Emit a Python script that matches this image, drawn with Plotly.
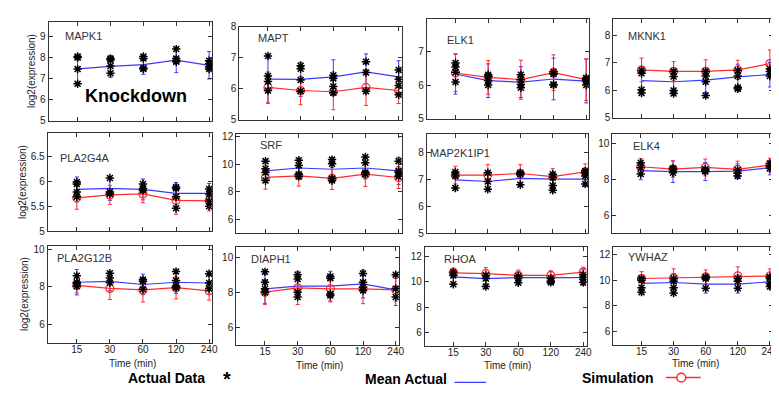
import plotly.graph_objects as go

W, H = 779, 393

times = [15, 30, 60, 120, 240]
time_labels = ["15", "30", "60", "120", "240"]

genes = ["MAPK1", "MAPT", "ELK1", "MKNK1",
         "PLA2G4A", "SRF", "MAP2K1IP1", "ELK4",
         "PLA2G12B", "DIAPH1", "RHOA", "YWHAZ"]

# ---- data ----
MAPK1_actual = [[8.05, 8.0, 7.45, 6.75], [7.95, 7.9, 7.6, 7.25], [8.05, 7.95, 7.5, 7.45], [8.4, 7.95, 7.85, 7.8], [7.85, 7.7, 7.55, 7.45]]
MAPK1_mean = [7.46, 7.58, 7.66, 7.88, 7.63]
MAPK1_mean_err = [0.65, 0.52, 0.46, 0.6, 0.65]
MAPK1_sim = None
MAPK1_sim_err = None

MAPT_actual = [[7.05, 6.41, 6.23, 5.94], [6.74, 6.64, 6.28, 5.92], [6.43, 6.33, 6.07, 5.87], [6.87, 6.52, 5.92], [6.6, 6.3, 6.1, 5.8]]
MAPT_mean = [6.31, 6.30, 6.38, 6.54, 6.38]
MAPT_mean_err = [0.78, 0.55, 0.55, 0.58, 0.52]
MAPT_sim = [6.04, 5.94, 5.90, 6.04, 5.94]
MAPT_sim_err = [0.5, 0.46, 0.58, 0.58, 0.42]

ELK1_actual = [[6.66, 6.54, 6.38, 6.09], [6.31, 6.26, 6.13, 6.0], [6.31, 6.16, 6.02, 5.92], [6.4, 6.33, 6.02, 6.0], [6.21, 6.16, 6.12, 6.0]]
ELK1_mean = [6.33, 6.13, 6.09, 6.18, 6.12]
ELK1_mean_err = [0.6, 0.5, 0.46, 0.62, 0.65]
ELK1_sim = [6.36, 6.23, 6.16, 6.37, 6.16]
ELK1_sim_err = [0.55, 0.5, 0.58, 0.53, 0.62]

MKNK1_actual = [[6.72, 6.62, 6.02, 5.9], [6.68, 6.5, 5.99, 5.88], [6.68, 6.52, 6.31, 5.81], [6.72, 6.52, 6.1, 6.05], [6.78, 6.68, 6.52]]
MKNK1_mean = [6.35, 6.31, 6.37, 6.49, 6.57]
MKNK1_mean_err = [0.5, 0.45, 0.45, 0.46, 0.45]
MKNK1_sim = [6.74, 6.69, 6.69, 6.74, 6.97]
MKNK1_sim_err = [0.43, 0.35, 0.42, 0.35, 0.5]

PLA2G4A_actual = [[5.99, 5.95, 5.79, 5.69], [6.07, 5.79, 5.75], [5.95, 5.86, 5.82], [5.89, 5.86, 5.69, 5.46], [5.85, 5.75, 5.6, 5.5]]
PLA2G4A_mean = [5.84, 5.86, 5.84, 5.76, 5.76]
PLA2G4A_mean_err = [0.25, 0.24, 0.21, 0.22, 0.2]
PLA2G4A_sim = [5.67, 5.73, 5.75, 5.62, 5.61]
PLA2G4A_sim_err = [0.23, 0.19, 0.18, 0.28, 0.2]

SRF_actual = [[10.24, 9.69, 9.41, 8.83], [10.3, 9.93, 9.29, 9.13], [10.35, 10.05, 8.98, 8.83], [10.54, 10.12, 9.41, 9.29], [10.24, 9.53, 9.41, 9.13]]
SRF_mean = [9.53, 9.74, 9.65, 9.74, 9.53]
SRF_mean_err = [0.8, 0.7, 0.8, 0.8, 1.0]
SRF_sim = [9.05, 9.17, 8.98, 9.29, 9.05]
SRF_sim_err = [0.85, 0.75, 0.8, 0.9, 0.8]

MAP2K1IP1_actual = [[7.29, 7.14, 6.69], [7.26, 6.93, 6.64], [7.26, 7.2, 6.81], [7.2, 7.08, 6.78, 6.6], [7.32, 7.26, 7.14, 6.84]]
MAP2K1IP1_mean = [6.99, 6.93, 7.05, 7.02, 7.02]
MAP2K1IP1_mean_err = [0.3, 0.33, 0.27, 0.25, 0.27]
MAP2K1IP1_sim = [7.17, 7.17, 7.23, 7.11, 7.29]
MAP2K1IP1_sim_err = [0.33, 0.4, 0.33, 0.3, 0.3]

ELK4_actual = [[8.91, 8.65, 8.29], [8.6, 8.55, 8.36], [8.55, 8.47, 8.42], [8.51, 8.33, 8.18], [8.87, 8.73, 8.6]]
ELK4_mean = [8.47, 8.42, 8.42, 8.45, 8.64]
ELK4_mean_err = [0.5, 0.6, 0.5, 0.4, 0.4]
ELK4_sim = [8.69, 8.56, 8.65, 8.55, 8.78]
ELK4_sim_err = [0.45, 0.45, 0.47, 0.45, 0.38]

PLA2G12B_actual = [[8.59, 8.24, 8.17, 8.03], [8.72, 8.47, 8.21], [8.38, 8.29, 7.86], [8.81, 8.34, 8.03, 7.95], [8.7, 8.2, 7.9]]
PLA2G12B_mean = [8.24, 8.29, 8.12, 8.24, 8.2]
PLA2G12B_mean_err = [0.68, 0.5, 0.55, 0.6, 0.6]
PLA2G12B_sim = [8.07, 7.91, 7.83, 7.95, 7.78]
PLA2G12B_sim_err = [0.4, 0.6, 0.65, 0.6, 0.5]

DIAPH1_actual = [[9.16, 8.56, 8.19, 8.0], [9.0, 8.75, 8.0, 7.72], [8.9, 8.8, 7.9, 7.81], [9.07, 8.56, 8.28, 8.09], [9.0, 8.19, 7.72]]
DIAPH1_mean = [8.19, 8.34, 8.34, 8.47, 8.13]
DIAPH1_mean_err = [0.85, 0.5, 0.85, 0.8, 0.9]
DIAPH1_sim = [8.0, 8.24, 8.19, 8.19, 8.13]
DIAPH1_sim_err = [0.7, 0.95, 0.75, 0.85, 0.65]

RHOA_actual = [[10.76, 10.5, 9.8], [10.5, 10.25, 9.62], [10.43, 10.25, 9.92], [10.25, 10.05, 9.95], [10.55, 10.38, 10.18, 9.95]]
RHOA_mean = [10.38, 10.25, 10.33, 10.33, 10.33]
RHOA_mean_err = [0.45, 0.4, 0.4, 0.5, 0.6]
RHOA_sim = [10.7, 10.63, 10.5, 10.5, 10.76]
RHOA_sim_err = [0.38, 0.48, 0.42, 0.35, 0.38]

YWHAZ_actual = [[10.13, 10.0, 9.42, 9.07], [10.13, 9.92, 9.42, 9.0], [10.25, 10.13, 9.37], [10.13, 9.92, 9.37], [10.25, 10.13, 9.75, 9.5]]
YWHAZ_mean = [9.75, 9.82, 9.7, 9.7, 9.87]
YWHAZ_mean_err = [0.65, 0.7, 0.7, 0.7, 0.55]
YWHAZ_sim = [10.13, 10.18, 10.25, 10.33, 10.33]
YWHAZ_sim_err = [0.53, 0.7, 0.55, 0.7, 0.55]

y_ranges = [[5, 9.7], [5, 8.0], [5, 7.97], [5, 8.6],
            [5, 6.97], [5, 12.2], [5, 8.7], [5, 10.5],
            [5, 10.2], [5, 10.6], [5, 12.75], [5, 12.6]]
y_dticks = [1, 1, 1, 1, 0.5, 2, 1, 2, 2, 2, 2, 2]

# ---- layout geometry (pixels: left, right, top, bottom) ----
boxes = [(41, 206, 8, 110), (233, 397, 13, 109), (422, 586, 5, 108), (610, 771, 5, 107),
         (40, 206, 123, 224), (230, 397, 124, 226), (422, 585, 124, 226), (609, 771, 124, 226),
         (40, 206, 239, 339), (230, 394, 240, 341), (420, 583, 240, 342), (610, 771, 240, 341)]
title_pos = [(55, 23), (250, 25), (440, 27), (623, 23),
             (50, 149), (252, 135), (423, 143), (628, 136),
             (47, 252), (243, 253), (437, 253), (623, 251)]
ytitle_x = {0: 23, 4: 14, 8: 16}
xtitle_y = {8: 360, 9: 363, 10: 363, 11: 360}

BLUE = "#3a3aff"
RED = "#ff2a2a"
AX = "#333333"
FONT = "Liberation Sans, Arial, sans-serif"

def px(x):
    return x / W

def py(y):
    return 1 - y / H

data_map = {g: (globals()[g + "_actual"], globals()[g + "_mean"], globals()[g + "_mean_err"],
                globals()[g + "_sim"], globals()[g + "_sim_err"]) for g in genes}

fig = go.Figure()
layout = dict()
annotations = []

for i, g in enumerate(genes):
    n = i + 1
    xa = "x" if n == 1 else f"x{n}"
    ya = "y" if n == 1 else f"y{n}"
    actual, mean, mean_err, sim, sim_err = data_map[g]

    fig.add_trace(go.Scatter(
        x=times, y=mean, mode="lines", xaxis=xa, yaxis=ya,
        line=dict(color=BLUE, width=1.2),
        error_y=dict(type="data", array=mean_err, color=BLUE, thickness=1, width=2),
        showlegend=False, hoverinfo="skip"))
    if sim is not None:
        fig.add_trace(go.Scatter(
            x=times, y=sim, mode="lines+markers", xaxis=xa, yaxis=ya,
            line=dict(color=RED, width=1.2),
            marker=dict(symbol="circle-open", size=8, color=RED, line=dict(width=1.2, color=RED)),
            error_y=dict(type="data", array=sim_err, color=RED, thickness=1, width=2),
            showlegend=False, hoverinfo="skip"))
    ax_x, ax_y = [], []
    for t, vals in zip(times, actual):
        for v in vals:
            ax_x.append(t)
            ax_y.append(v)
    fig.add_trace(go.Scatter(
        x=ax_x, y=ax_y, mode="markers", xaxis=xa, yaxis=ya,
        marker=dict(symbol="asterisk-open", size=7, color="black", line=dict(width=1.5, color="black")),
        showlegend=False, hoverinfo="skip"))

    l, r, t, b = boxes[i]
    bottom_row = i >= 8
    first_col = i % 4 == 0
    xkey = "xaxis" if n == 1 else f"xaxis{n}"
    ykey = "yaxis" if n == 1 else f"yaxis{n}"
    layout[xkey] = dict(
        domain=[px(l), px(r)], anchor=ya, type="log",
        range=[0.9112, 2.4103], tickvals=times, ticktext=time_labels,
        showticklabels=bottom_row, ticks="inside", ticklen=4, tickcolor=AX,
        showline=True, linecolor=AX, linewidth=1, mirror="allticks",
        showgrid=False, zeroline=False, ticklabelstandoff=-3,
        tickfont=dict(size=10, color="#222", family=FONT),
    )
    layout[ykey] = dict(
        domain=[py(b), py(t)], anchor=xa, range=y_ranges[i],
        tick0=0, dtick=y_dticks[i],
        ticks="inside", ticklen=4, tickcolor=AX,
        showline=True, linecolor=AX, linewidth=1, mirror="allticks",
        showgrid=False, zeroline=False,
        tickfont=dict(size=10, color="#222", family=FONT),
    )
    tx, ty = title_pos[i]
    annotations.append(dict(text=g, x=px(tx), y=py(ty), xref="paper", yref="paper",
                            xanchor="left", yanchor="middle", showarrow=False,
                            font=dict(size=11, color="#333", family=FONT)))
    if first_col:
        annotations.append(dict(text="log2(expression)", x=px(ytitle_x[i]), y=py((t + b) / 2), xref="paper", yref="paper",
                                xanchor="center", yanchor="middle", textangle=-90, showarrow=False,
                                font=dict(size=10, color="#222", family=FONT)))
    if bottom_row:
        annotations.append(dict(text="Time (min)", x=px((l + r) / 2 + 2), y=py(xtitle_y[i]), xref="paper", yref="paper",
                                xanchor="center", yanchor="middle", showarrow=False,
                                font=dict(size=10, color="#222", family=FONT)))

annotations.append(dict(text="<b>Knockdown</b>", x=px(129), y=py(85), xref="paper", yref="paper",
                        xanchor="center", yanchor="middle", showarrow=False,
                        font=dict(size=18, color="black", family=FONT)))

# legend row
annotations += [
    dict(text="<b>Actual Data</b>", x=px(119), y=py(375), xref="paper", yref="paper", xanchor="left",
         yanchor="middle", showarrow=False, font=dict(size=14, color="black", family=FONT)),
    dict(text="<b>*</b>", x=px(221), y=py(377), xref="paper", yref="paper", xanchor="center",
         yanchor="middle", showarrow=False, font=dict(size=20, color="black", family=FONT)),
    dict(text="<b>Mean Actual</b>", x=px(358), y=py(377), xref="paper", yref="paper", xanchor="left",
         yanchor="middle", showarrow=False, font=dict(size=14, color="black", family=FONT)),
    dict(text="<b>Simulation</b>", x=px(576), y=py(375), xref="paper", yref="paper", xanchor="left",
         yanchor="middle", showarrow=False, font=dict(size=14, color="black", family=FONT)),
]
shapes = [
    dict(type="line", xref="paper", yref="paper", x0=px(450), x1=px(482), y0=py(380), y1=py(380),
         line=dict(color=BLUE, width=1.2)),
    dict(type="line", xref="paper", yref="paper", x0=px(663), x1=px(698), y0=py(375), y1=py(375),
         line=dict(color=RED, width=1.5)),
    dict(type="circle", xref="paper", yref="paper", x0=px(674), x1=px(683), y0=py(379.5), y1=py(370.5),
         line=dict(color=RED, width=1.5), fillcolor="white"),
]

fig.update_layout(
    width=W, height=H, margin=dict(l=0, r=0, t=0, b=0),
    paper_bgcolor="white", plot_bgcolor="white",
    annotations=annotations, shapes=shapes, showlegend=False,
    **layout)

fig.write_html("out.html")
